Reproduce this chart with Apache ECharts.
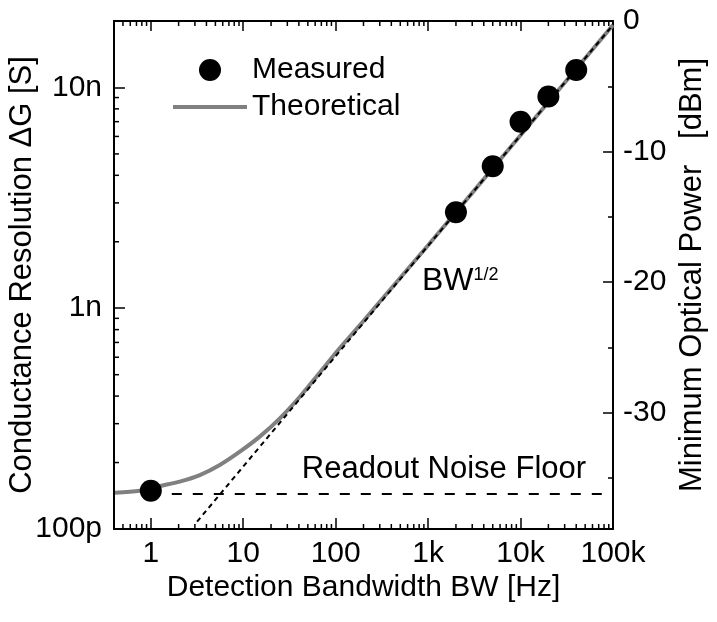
<!DOCTYPE html>
<html>
<head>
<meta charset="utf-8">
<script src="https://cdn.jsdelivr.net/npm/echarts@6/dist/echarts.min.js"></script>
<style>
html,body{margin:0;padding:0;background:#fff;}
#chart{width:717px;height:622px;}
</style>
</head>
<body>
<div id="chart"></div>
<script>
// ---- data ----
const xTickValues = [1, 10, 100, 1000, 10000, 100000];
const xTickLabels = ['1', '10', '100', '1k', '10k', '100k'];
const yTickValues = [1e-10, 1e-9, 1e-8];
const yTickLabels = ['100p', '1n', '10n'];
const minorMantissas = [2, 3, 4, 5, 6, 7, 8, 9];

const measuredBW = [1, 2000, 5000, 10000, 20000, 40000];
const measuredG = [1.49e-10, 2.72e-9, 4.4e-9, 7.0e-9, 9.1e-9, 1.2e-8];

const theoryBW = [0.41, 0.76, 1.25, 2.06, 3.39, 5.58, 9.19, 15.1, 24.9, 41.0, 67.5, 111, 183, 300, 1000, 3000, 10000, 30000, 100000];
const theoryG = [1.46e-10, 1.49e-10, 1.565e-10, 1.64e-10, 1.755e-10, 1.95e-10, 2.24e-10, 2.62e-10, 3.17e-10, 3.97e-10, 5.12e-10, 6.6e-10, 8.38e-10, 1.07e-9, 1.93e-9, 3.33e-9, 6.08e-9, 1.05e-8, 1.92e-8];

const asymBW = [3.17, 100000];
const asymG = [1.08e-10, 1.92e-8];

const floorBW = [1, 100000];
const floorG = [1.44e-10, 1.44e-10];

const xMin = 0.4, xMax = 100000;
const yMin = 1e-10, yMax = 2e-8;
const dBmTop = 0, dBmBottom = 38.9; // shown as negative dBm

// ---- helpers ----
const FONT = 'Liberation Sans, Arial, Helvetica, sans-serif';
function zip(a, b) { return a.map((v, i) => [v, b[i]]); }
function logLabel(values, labels) {
  return function (v) {
    const i = values.findIndex(t => Math.abs(Math.log10(v) - Math.log10(t)) < 1e-6);
    return i >= 0 ? labels[i] : '';
  };
}
const decadesX = [0.1, 1, 10, 100, 1000, 10000];
const xMinor = [];
decadesX.forEach(d => minorMantissas.forEach(m => { const v = d * m; if (v > xMin && v < xMax) xMinor.push(v); }));
const decadesY = [1e-10, 1e-9, 1e-8];
const yMinor = [];
decadesY.forEach(d => minorMantissas.forEach(m => { const v = d * m; if (v > yMin && v < yMax) yMinor.push(v); }));

const minorLen = 5;
const tickStyle = { stroke: '#000', lineWidth: 1.5 };
const labelBase = { show: true, position: 'right', distance: 0, color: '#000', fontFamily: FONT, opacity: 1 };

const chart = echarts.init(document.getElementById('chart'), null, { renderer: 'canvas' });
chart.setOption({
  animation: false,
  backgroundColor: '#fff',
  textStyle: { fontFamily: FONT, color: '#000' },
  grid: { left: 114, right: 104, top: 21, bottom: 93, containLabel: false, outerBoundsMode: 'none' },
  legend: {
    orient: 'vertical', left: 168, top: 50, itemWidth: 74, itemHeight: 22, itemGap: 7,
    symbolKeepAspect: true,
    textStyle: { fontSize: 30, fontFamily: FONT, color: '#000' },
    data: [
      { name: 'Measured', icon: 'circle', itemStyle: { color: '#000', opacity: 1 } },
      { name: 'Theoretical', icon: 'path://M0,0L74,0L74,4L0,4Z', itemStyle: { color: '#808080', opacity: 1 } }
    ]
  },
  xAxis: [{
    type: 'log', logBase: 10, min: xMin, max: xMax, position: 'bottom',
    name: 'Detection Bandwidth BW [Hz]', nameLocation: 'middle', nameGap: 44, nameMoveOverlap: false,
    nameTextStyle: { fontSize: 30, fontFamily: FONT, color: '#000' },
    axisLine: { show: true, onZero: false, lineStyle: { color: '#000', width: 2 } },
    axisTick: { show: true, inside: true, length: 11, lineStyle: { color: '#000', width: 1.5 } },
    minorTick: { show: false },
    splitLine: { show: false }, minorSplitLine: { show: false },
    axisLabel: { margin: 10, fontSize: 30, fontFamily: FONT, color: '#000', formatter: logLabel(xTickValues, xTickLabels) }
  }, {
    type: 'log', logBase: 10, min: xMin, max: xMax, position: 'top',
    axisLine: { show: true, onZero: false, lineStyle: { color: '#000', width: 2 } },
    axisTick: { show: true, inside: true, length: 10, lineStyle: { color: '#000', width: 1.5 } },
    axisLabel: { show: false }, splitLine: { show: false }
  }],
  yAxis: [{
    type: 'log', logBase: 10, min: yMin, max: yMax, position: 'left',
    name: 'Conductance Resolution \u0394G [S]', nameLocation: 'middle', nameRotate: 90, nameGap: 76, nameMoveOverlap: false,
    nameTextStyle: { fontSize: 31, fontFamily: FONT, color: '#000' },
    axisLine: { show: true, onZero: false, lineStyle: { color: '#000', width: 2 } },
    axisTick: { show: true, inside: true, length: 11, lineStyle: { color: '#000', width: 1.5 } },
    splitLine: { show: false },
    axisLabel: { margin: 12, fontSize: 30, fontFamily: FONT, color: '#000', formatter: logLabel(yTickValues, yTickLabels) }
  }, {
    type: 'value', min: dBmTop, max: dBmBottom, interval: 10, inverse: true, position: 'right',
    name: 'Minimum Optical Power   [dBm]', nameLocation: 'middle', nameRotate: 90, nameGap: 64, nameMoveOverlap: false,
    nameTextStyle: { fontSize: 31, fontFamily: FONT, color: '#000' },
    axisLine: { show: true, onZero: false, lineStyle: { color: '#000', width: 2 } },
    axisTick: { show: true, inside: true, length: 10, lineStyle: { color: '#000', width: 1.5 } },
    minorTick: { show: true, splitNumber: 2, length: 5, lineStyle: { color: '#000', width: 1.5 } },
    splitLine: { show: false }, minorSplitLine: { show: false },
    axisLabel: { margin: 10, fontSize: 30, fontFamily: FONT, color: '#000',
      formatter: v => (Math.abs(v % 10) < 1e-9 ? (v === 0 ? '0' : '-' + v) : '') }
  }],
  series: [
    {
      name: 'Theoretical', type: 'line', data: zip(theoryBW, theoryG), smooth: 0.3, symbol: 'none', showSymbol: false,
      lineStyle: { color: '#808080', width: 4 }, itemStyle: { color: '#808080' }, z: 2
    },
    {
      name: 'asymptote', type: 'line', data: zip(asymBW, asymG), symbol: 'none',
      lineStyle: { color: '#000', width: 2, type: [5, 4] }, z: 3
    },
    {
      name: 'floor', type: 'line', data: zip(floorBW, floorG), symbol: 'none',
      lineStyle: { color: '#000', width: 2, type: [10, 11] }, z: 3
    },
    {
      name: 'Measured', type: 'scatter', data: zip(measuredBW, measuredG), symbol: 'circle', symbolSize: 22,
      itemStyle: { color: '#000', opacity: 1 }, z: 4
    },
    {
      name: 'labels', type: 'scatter', symbolSize: 0, silent: true, z: 5,
      itemStyle: { color: '#000', opacity: 1 },
      data: [
        { value: [43, 1.87e-10], label: Object.assign({}, labelBase, { formatter: 'Readout Noise Floor', fontSize: 31 }) },
        { value: [857, 1.32e-9], label: Object.assign({}, labelBase, { formatter: '{a|BW}{b|1/2}',
          rich: { a: { fontSize: 32, fontFamily: FONT, color: '#000', lineHeight: 32 },
                  b: { fontSize: 18, fontFamily: FONT, color: '#000', lineHeight: 18, verticalAlign: 'top' } } }) }
      ]
    },
    {
      name: 'xminor', type: 'custom', silent: true, z: 6, clip: false,
      data: xMinor.map(v => [v, yMin]),
      encode: { x: 0, y: 1 },
      renderItem: function (params, api) {
        const v = api.value(0);
        const b = api.coord([v, yMin]);
        const t = api.coord([v, yMax]);
        return { type: 'group', children: [
          { type: 'line', shape: { x1: b[0], y1: b[1], x2: b[0], y2: b[1] - minorLen }, style: tickStyle },
          { type: 'line', shape: { x1: t[0], y1: t[1], x2: t[0], y2: t[1] + minorLen }, style: tickStyle }
        ] };
      }
    },
    {
      name: 'yminor', type: 'custom', silent: true, z: 6, clip: false,
      data: yMinor.map(v => [xMin, v]),
      encode: { x: 0, y: 1 },
      renderItem: function (params, api) {
        const v = api.value(1);
        const p = api.coord([xMin, v]);
        return { type: 'line', shape: { x1: p[0], y1: p[1], x2: p[0] + minorLen, y2: p[1] }, style: tickStyle };
      }
    }
  ]
});
</script>
</body>
</html>
